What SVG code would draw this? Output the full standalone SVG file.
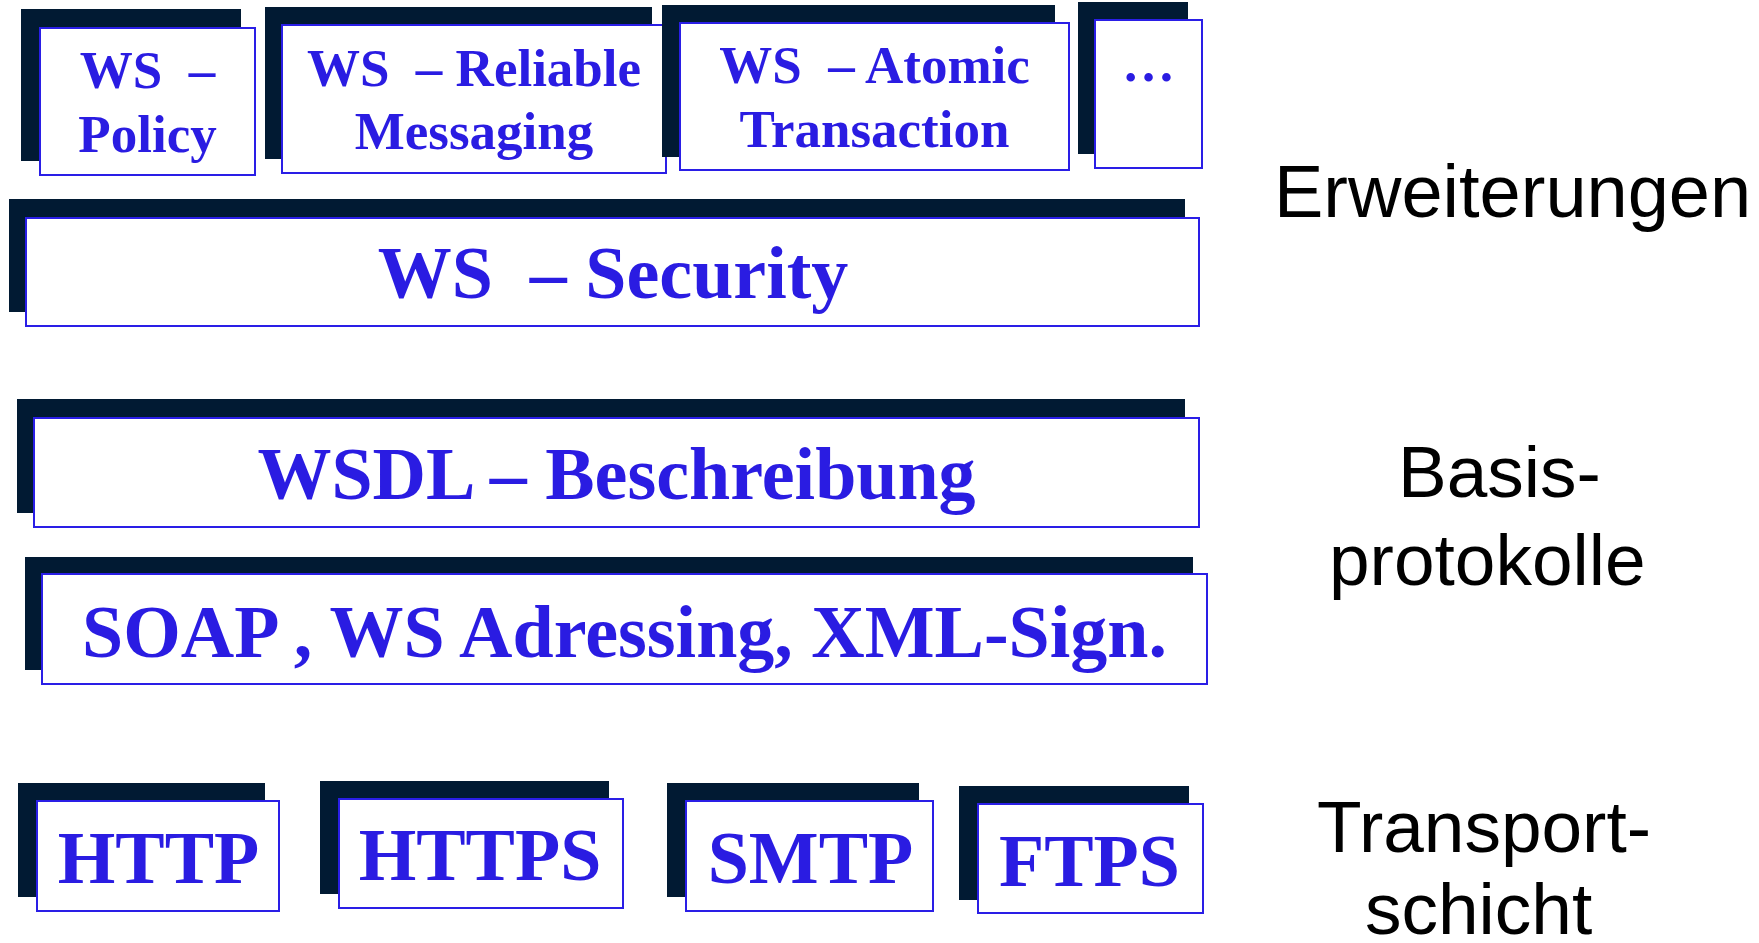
<svg xmlns="http://www.w3.org/2000/svg" width="1759" height="943" viewBox="0 0 1759 943">
<style>
.sh{fill:#011a33}
.fr{fill:#ffffff;stroke:#2a1ee6;stroke-width:2}
.t{font-family:"Liberation Serif","Times New Roman",serif;font-weight:bold;fill:#2a1ce2;text-anchor:middle;white-space:pre}
.s{font-size:53px}
.b{font-size:74px}
.lab{font-family:"Liberation Sans",Arial,sans-serif;font-size:73px;fill:#000000}
</style>
<rect width="1759" height="943" fill="#ffffff"/>
<g id="ws-policy">
<rect class="sh" x="21" y="9" width="220" height="152"/>
<rect class="fr" x="40" y="28" width="215" height="147"/>
<text class="t s" x="147.5" y="88">WS  –</text>
<text class="t s" x="147.5" y="152">Policy</text>
</g>
<g id="ws-reliable-messaging">
<rect class="sh" x="265" y="7" width="387" height="152"/>
<rect class="fr" x="282" y="25" width="384" height="148"/>
<text class="t s" x="474" y="86">WS  – Reliable</text>
<text class="t s" x="474" y="149">Messaging</text>
</g>
<g id="ws-atomic-transaction">
<rect class="sh" x="662" y="5" width="393" height="152"/>
<rect class="fr" x="680" y="23" width="389" height="147"/>
<text class="t s" x="874.5" y="83">WS  – Atomic</text>
<text class="t s" x="874.5" y="147">Transaction</text>
</g>
<g id="more">
<rect class="sh" x="1078" y="2" width="110" height="152"/>
<rect class="fr" x="1095" y="20" width="107" height="148"/>
<text class="t s" x="1148.5" y="81">…</text>
</g>
<g id="ws-security">
<rect class="sh" x="9" y="199" width="1176" height="113"/>
<rect class="fr" x="26" y="218" width="1173" height="108"/>
<text class="t b" x="613" y="298">WS  – Security</text>
</g>
<g id="wsdl">
<rect class="sh" x="17" y="399" width="1168" height="114"/>
<rect class="fr" x="34" y="418" width="1165" height="109"/>
<text class="t b" x="616.5" y="499">WSDL – Beschreibung</text>
</g>
<g id="soap">
<rect class="sh" x="25" y="557" width="1168" height="113"/>
<rect class="fr" x="42" y="574" width="1165" height="110"/>
<text class="t b" x="624.5" y="657">SOAP , WS Adressing, XML-Sign.</text>
</g>
<g id="http">
<rect class="sh" x="18" y="783" width="247" height="114"/>
<rect class="fr" x="37" y="801" width="242" height="110"/>
<text class="t b" x="158.5" y="883">HTTP</text>
</g>
<g id="https">
<rect class="sh" x="320" y="781" width="289" height="113"/>
<rect class="fr" x="339" y="799" width="284" height="109"/>
<text class="t b" x="480" y="880">HTTPS</text>
</g>
<g id="smtp">
<rect class="sh" x="667" y="783" width="252" height="114"/>
<rect class="fr" x="686" y="801" width="247" height="110"/>
<text class="t b" x="810.5" y="883">SMTP</text>
</g>
<g id="ftps">
<rect class="sh" x="959" y="786" width="230" height="114"/>
<rect class="fr" x="978" y="804" width="225" height="109"/>
<text class="t b" x="1089.5" y="886">FTPS</text>
</g>
<g id="labels">
<text class="lab" x="1274" y="217" style="font-size:74px">Erweiterungen</text>
<text class="lab" x="1398" y="497">Basis-</text>
<text class="lab" x="1329" y="585">protokolle</text>
<text class="lab" x="1317" y="852">Transport-</text>
<text class="lab" x="1365" y="934">schicht</text>
</g>
<g id="connectors"></g>
</svg>
